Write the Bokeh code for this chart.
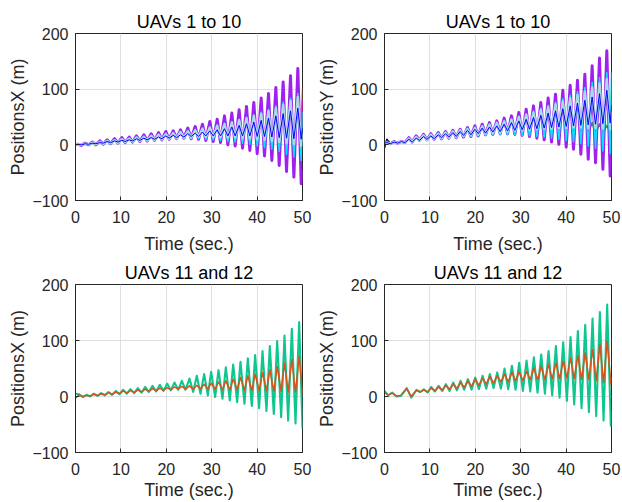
from bokeh.plotting import figure
from bokeh.layouts import gridplot
from bokeh.models import Range1d, FixedTicker
from bokeh.embed import file_html
from bokeh.resources import INLINE

# ---------------- axes / ticks ----------------
x_ticks = [0, 10, 20, 30, 40, 50]
y_ticks = [-100, 0, 100, 200]
titles = ["UAVs 1 to 10", "UAVs 1 to 10", "UAVs 11 and 12", "UAVs 11 and 12"]
ylabels = ["PositionsX (m)", "PositionsY (m)", "PositionsX (m)", "PositionsX (m)"]
xlabel = "Time (sec.)"

# ---------------- UAVs 1-10: times of crests / troughs (s) ----------------
top_t_a = [0.52, 2.14, 3.75, 5.37, 6.98, 8.60, 10.21, 11.83, 13.44, 15.06, 16.67, 18.29, 19.90,
           21.52, 23.13, 24.74, 26.36, 27.97, 29.59, 31.21, 32.82, 34.44, 36.05, 37.67, 39.28,
           40.90, 42.51, 44.13, 45.74, 47.36, 48.97]
bot_t_a = [0.0, 1.26, 2.88, 4.49, 6.11, 7.72, 9.34, 10.95, 12.57, 14.18, 15.80, 17.41, 19.03,
           20.64, 22.26, 23.87, 25.48, 27.10, 28.71, 30.33, 31.94, 33.56, 35.17, 36.79, 38.40,
           40.02, 41.63, 43.25, 44.87, 46.48, 48.10, 49.71, 50.0]
tail_t = [44.87, 45.74, 46.48, 47.36, 48.10, 48.97, 49.71, 50.0]

# Panel 1 (PositionsX, UAVs 1-10)
purple1_top = [1, 3, 5, 7, 9, 11, 13, 14, 16, 18, 20, 22, 24, 25, 27, 30, 33, 37, 42, 46, 52, 57,
               63, 69, 76, 84, 92, 103, 113, 124, 137]
purple1_bot = [0, -1, 0, 0, 1, 2, 3, 4, 5, 6, 7, 8, 9, 10, 11, 12, 11, 10, 8, 6, 4, 0, -2, -6, -10,
               -16, -20, -28, -37, -48, -58, -70, -45]
cyan1_top = [1, 3, 4, 6, 8, 9, 11, 12, 14, 16, 17, 19, 21, 22, 24, 26, 28, 30, 33, 36, 39, 42, 46,
             50, 54, 59, 64, 70, 77, 84, 92]
cyan1_bot = [0, -1, 0, 1, 1, 2, 3, 4, 5, 6, 7, 8, 9, 10, 11, 12, 11, 11, 10, 9, 8, 6, 5, 3, 1, -2,
             -5, -8, -12, -17, -22, -28, 60]
black1_top = [1, 2, 4, 6, 7, 9, 10, 12, 13, 15, 16, 18, 20, 21, 23, 25, 27, 30, 33, 36, 40, 43, 48,
              52, 57, 62, 67, 74, 81, 88, 97]
black1_bot = [0, -1, 0, 1, 2, 3, 3, 4, 5, 6, 7, 8, 9, 10, 11, 12, 12, 12, 11, 11, 10, 8, 7, 6, 4, 2,
              0, -3, -7, -11, -15, -20, 30]
lblue1_top = [1, 2, 4, 5, 7, 8, 10, 11, 13, 14, 16, 18, 19, 21, 23, 24, 26, 29, 31, 34, 37, 40, 44,
              48, 52, 56, 61, 66, 72, 79, 86]
lblue1_bot = [0, 0, 1, 1, 2, 3, 4, 5, 6, 7, 8, 9, 10, 11, 12, 13, 13, 14, 14, 14, 14, 13, 13, 12, 11,
              10, 9, 7, 5, 3, 1, -2, 20]
blue1_top = [1, 2, 3, 4, 6, 7, 8, 9, 11, 12, 13, 14, 16, 17, 18, 20, 21, 23, 25, 27, 29, 32, 35, 38,
             41, 44, 48, 52, 56, 61, 66]
blue1_bot = [0, 0, 1, 2, 3, 4, 5, 6, 7, 8, 9, 10, 11, 12, 13, 14, 15, 15, 16, 16, 16, 16, 16, 16, 16,
             15, 15, 14, 13, 12, 11, 10, 30]
brown1_tail = [5, 70, 3, 78, 0, 88, -3, 97]
magenta1_tail = [8, 62, 6, 70, 4, 78, 2, 82]

# Panel 2 (PositionsY, UAVs 1-10)
purple2_top = [5, 6, 6, 13, 16, 19, 20, 22, 24, 26, 28, 31, 34, 37, 40, 43, 48, 52, 58, 64, 70, 76,
               84, 91, 98, 107, 116, 127, 142, 156, 169]
purple2_bot = [3, 2, 3, 4, 5, 8, 9, 10, 11, 12, 13, 14, 15, 16, 18, 19, 20, 20, 19, 17, 15, 12, 9, 5,
               1, -4, -8, -17, -26, -32, -44, -56, 30]
cyan2_top = [4, 5, 6, 12, 15, 18, 19, 21, 23, 25, 27, 30, 32, 35, 38, 41, 44, 47, 52, 56, 61, 66, 71,
             77, 83, 89, 96, 103, 112, 121, 130]
cyan2_bot = [3, 2, 3, 4, 5, 8, 9, 10, 11, 12, 13, 14, 15, 16, 17, 18, 18, 18, 18, 17, 16, 15, 14, 12,
             10, 8, 5, 2, -2, -6, -11, -16, 130]
black2_top = [10, 5, 6, 12, 14, 17, 18, 20, 22, 24, 26, 29, 31, 34, 37, 40, 43, 47, 52, 56, 61, 66,
              71, 77, 83, 89, 96, 103, 112, 120, 129]
black2_bot = [-6, 3, 3, 4, 5, 8, 9, 10, 11, 12, 13, 14, 15, 16, 17, 18, 19, 19, 18, 17, 16, 14, 12,
              10, 8, 5, 2, -1, -5, -9, -14, -19, 40]
lblue2_top = [4, 5, 6, 11, 14, 17, 18, 20, 22, 24, 26, 28, 30, 33, 36, 39, 42, 45, 50, 54, 58, 63,
              68, 73, 78, 84, 90, 96, 103, 110, 118]
lblue2_bot = [3, 2, 3, 4, 5, 8, 9, 11, 12, 13, 14, 16, 17, 18, 20, 21, 22, 24, 25, 26, 27, 28, 29,
              29, 30, 30, 31, 31, 30, 30, 29, 28, 60]
blue2_top = [4, 5, 6, 10, 12, 15, 16, 18, 20, 22, 24, 26, 28, 30, 32, 34, 37, 40, 43, 46, 49, 53, 57,
             61, 65, 70, 75, 80, 86, 92, 98]
blue2_bot = [3, 2, 3, 4, 5, 8, 10, 11, 13, 14, 15, 17, 18, 20, 21, 23, 24, 25, 26, 27, 28, 29, 30,
             31, 32, 33, 34, 35, 36, 37, 38, 39, 70]
brown2_tail = [25, 75, 22, 80, 20, 88, 18, 85]
green2_tail = [20, 40, 18, 38, 20, 35, 22, 30]

# ---------------- UAVs 11 and 12 ----------------
# Panel 3
top_t_c = [0.81, 2.43, 4.04, 5.66, 7.27, 8.89, 10.50, 12.12, 13.73, 15.35, 16.96, 18.58, 20.19,
           21.81, 23.42, 25.11, 26.72, 28.34, 29.88, 31.50, 33.11, 34.73, 36.34, 37.96, 39.57,
           41.19, 42.80, 44.42, 46.03, 47.65, 49.27]
bot_t_c = [0.0, 1.62, 3.23, 4.85, 6.46, 8.08, 9.69, 11.31, 12.92, 14.54, 16.15, 17.77, 19.38, 21.00,
           22.61, 24.23, 25.92, 27.53, 29.15, 30.76, 32.38, 33.99, 35.61, 37.22, 38.84, 40.45,
           42.07, 43.68, 45.30, 46.84, 48.46, 50.0]
green3_top = [4, 3, 5, 6, 8, 10, 12, 13, 15, 17, 19, 21, 23, 25, 28, 32, 37, 40, 44, 47, 52, 57, 62,
              68, 74, 81, 90, 99, 109, 121, 133]
green3_bot = [5, -1, 0, 1, 2, 3, 4, 5, 6, 7, 8, 9, 10, 11, 12, 12, 8, 5, 2, -1, -4, -7, -10, -13,
              -17, -21, -26, -31, -37, -43, -48, -57]
orange3_top = [3, 2, 4, 5, 7, 8, 10, 11, 12, 13, 14, 15, 16, 17, 18, 19, 20, 22, 24, 26, 28, 31, 34,
               37, 40, 43, 48, 54, 60, 66, 72]
orange3_bot = [-3, 0, 1, 2, 3, 4, 5, 6, 7, 8, 9, 10, 11, 12, 13, 13, 13, 13, 13, 13, 12, 12, 12, 11,
               11, 10, 10, 9, 9, 8, 8, 5]

# Panel 4
start_t_d = [0.0, 0.8, 1.7, 2.6, 3.6, 4.9, 5.9]
top_t_d = [7.06, 8.68, 10.29, 11.91, 13.52, 15.14, 16.75, 18.37, 19.98, 21.60, 23.21, 24.83, 26.44,
           28.06, 29.67, 31.29, 32.90, 34.52, 36.13, 37.75, 39.36, 40.98, 42.59, 44.21, 45.82,
           47.44, 49.05]
bot_t_d = [7.87, 9.49, 11.10, 12.72, 14.33, 15.95, 17.56, 19.18, 20.79, 22.41, 24.02, 25.64, 27.25,
           28.87, 30.48, 32.10, 33.71, 35.33, 36.94, 38.56, 40.17, 41.79, 43.40, 45.02, 46.63,
           48.25, 49.86, 50.0]
green4_start = [10, 2, 7, 0, 1, 15, -2]
green4_top = [12, 13, 17, 19, 22, 25, 28, 31, 34, 37, 40, 43, 50, 55, 60, 64, 70, 75, 81, 90, 97,
              106, 117, 128, 139, 151, 164]
green4_bot = [8, 7, 9, 10, 10, 11, 12, 12, 13, 14, 15, 14, 13, 12, 10, 9, 7, 5, 2, -2, -8, -14, -21,
              -28, -35, -43, -52, -25]
orange4_start = [7, 3, 6, 1, 2, 14, 0]
orange4_top = [11, 12, 15, 17, 20, 22, 25, 28, 31, 33, 36, 37, 40, 43, 44, 45, 51, 54, 57, 60, 63,
               69, 73, 78, 84, 93, 99]
orange4_bot = [8, 8, 10, 11, 13, 14, 16, 18, 20, 22, 24, 26, 26, 28, 28, 30, 30, 30, 31, 32, 33, 32,
               31, 30, 28, 25, 22, 35]

# ---------------- colours ----------------
PURPLE = "#A020F0"
CYAN = "#00E5FF"
BLACK = "#111111"
LBLUE = "#ADD8E6"
BLUE = "#0000FF"
BROWN = "#A0522D"
MAGENTA = "#FF00FF"
DGREEN = "#20A050"
SEAGREEN = "#10C690"
ORANGE = "#D95319"
AX = "#262626"
FONT = "Liberation Sans"


def merge(*pairs):
    ts, vs = [], []
    for t, v in pairs:
        ts += list(t)
        vs += list(v)
    pts = sorted(zip(ts, vs), key=lambda q: q[0])
    return [q[0] for q in pts], [q[1] for q in pts]


def make_fig(title, ylabel, left, right, top_row):
    if top_row:
        h, btop, bbot, lab_so = 256, 33, 55, 8
    else:
        h, btop, bbot, lab_so = 246, 28, 50, 2
    p = figure(width=311, height=h, x_range=Range1d(0, 50), y_range=Range1d(-100, 200),
               output_backend="svg", toolbar_location=None,
               min_border_left=left, min_border_right=right,
               min_border_top=btop, min_border_bottom=bbot)
    p.title.text = title
    p.title.align = "center"
    p.title.text_font = FONT
    p.title.text_font_size = "18px"
    p.title.text_font_style = "normal"
    p.title.text_color = "#000000"
    p.title.standoff = 4
    p.xaxis.ticker = FixedTicker(ticks=x_ticks)
    p.yaxis.ticker = FixedTicker(ticks=y_ticks)
    p.xaxis.axis_label = xlabel
    p.yaxis.axis_label = ylabel
    for ax in (p.xaxis[0], p.yaxis[0]):
        ax.axis_label_text_font = FONT
        ax.axis_label_text_font_size = "18px"
        ax.axis_label_text_font_style = "normal"
        ax.axis_label_text_color = AX
        ax.major_label_text_font = FONT
        ax.major_label_text_font_size = "16px"
        ax.major_label_text_color = AX
        ax.axis_line_color = AX
        ax.major_tick_line_color = AX
        ax.major_tick_in = 4
        ax.major_tick_out = 0
        ax.minor_tick_in = 0
        ax.minor_tick_out = 0
    p.xaxis.major_label_standoff = 10
    p.yaxis.major_label_standoff = 7
    p.xaxis.axis_label_standoff = lab_so
    p.yaxis.axis_label_standoff = 1
    p.xgrid.grid_line_color = "#DFDFDF"
    p.ygrid.grid_line_color = "#DFDFDF"
    p.outline_line_color = AX
    p.outline_line_alpha = 1.0
    p.background_fill_color = "white"
    p.border_fill_color = "white"
    return p


def draw(p, t, v, color, width):
    p.line(t, v, line_color=color, line_width=width, line_join="round")


# ---- Panel 1 ----
p1 = make_fig(titles[0], ylabels[0], 75, 9, True)
draw(p1, tail_t, brown1_tail, BROWN, 1.5)
draw(p1, tail_t, magenta1_tail, MAGENTA, 1.5)
draw(p1, *merge((top_t_a, black1_top), (bot_t_a, black1_bot)), BLACK, 1.5)
draw(p1, *merge((top_t_a, purple1_top), (bot_t_a, purple1_bot)), PURPLE, 3)
draw(p1, *merge((top_t_a, cyan1_top), (bot_t_a, cyan1_bot)), CYAN, 1.5)
draw(p1, *merge((top_t_a, lblue1_top), (bot_t_a, lblue1_bot)), LBLUE, 2.5)
draw(p1, *merge((top_t_a, blue1_top), (bot_t_a, blue1_bot)), BLUE, 1)

# ---- Panel 2 ----
p2 = make_fig(titles[1], ylabels[1], 73, 11, True)
draw(p2, tail_t, brown2_tail, BROWN, 1.5)
draw(p2, tail_t, green2_tail, DGREEN, 1.5)
draw(p2, *merge((top_t_a, black2_top), (bot_t_a, black2_bot)), BLACK, 1.5)
draw(p2, *merge((top_t_a, purple2_top), (bot_t_a, purple2_bot)), PURPLE, 3)
draw(p2, *merge((top_t_a, cyan2_top), (bot_t_a, cyan2_bot)), CYAN, 1.5)
draw(p2, *merge((top_t_a, lblue2_top), (bot_t_a, lblue2_bot)), LBLUE, 2.5)
draw(p2, *merge((top_t_a, blue2_top), (bot_t_a, blue2_bot)), BLUE, 1)

# ---- Panel 3 ----
p3 = make_fig(titles[2], ylabels[2], 75, 9, False)
draw(p3, *merge((top_t_c, green3_top), (bot_t_c, green3_bot)), SEAGREEN, 2.1)
draw(p3, *merge((top_t_c, orange3_top), (bot_t_c, orange3_bot)), ORANGE, 1.5)

# ---- Panel 4 ----
p4 = make_fig(titles[3], ylabels[3], 73, 11, False)
draw(p4, *merge((start_t_d, green4_start), (top_t_d, green4_top), (bot_t_d, green4_bot)), SEAGREEN, 2.1)
draw(p4, *merge((start_t_d, orange4_start), (top_t_d, orange4_top), (bot_t_d, orange4_bot)), ORANGE, 1.5)

grid = gridplot([[p1, p2], [p3, p4]], toolbar_location=None)

open("out.html", "w").write(file_html(grid, INLINE))
